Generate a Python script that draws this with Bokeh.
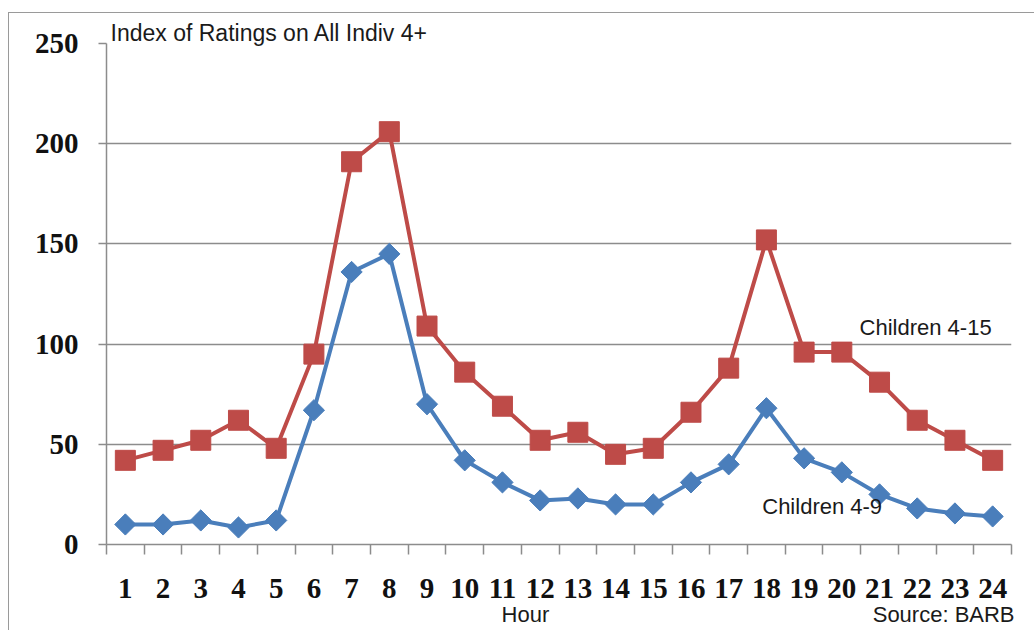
from bokeh.plotting import figure
from bokeh.models import Range1d, FixedTicker, Label, LinearAxis
from bokeh.embed import file_html
from bokeh.resources import INLINE

hours = list(range(1, 25))
hour_labels = [str(h) for h in hours]
children_4_15 = [42, 47, 52, 62, 48, 95, 191, 206, 109, 86, 69, 52, 56, 45, 48, 66, 88, 152, 96, 96, 81, 62, 52, 42]
children_4_9 = [10, 10, 12, 8.5, 12, 67, 136, 145, 70, 42, 31, 22, 23, 20, 20, 31, 40, 68, 43, 36, 25, 18, 15.5, 14]
y_ticks = [0, 50, 100, 150, 200, 250]

title_text = "Index of Ratings on All Indiv 4+"
series_names = ["Children 4-15", "Children 4-9"]
x_title = "Hour"
source_text = "Source: BARB"

RED = "#BE4B48"
BLUE = "#4A7EBB"
GRID = "#8C8C8C"
SANS = "Liberation Sans"
SERIF = "Liberation Serif"
TXT = "#1a1a1a"

p = figure(width=1026, height=618, output_backend="svg", toolbar_location=None,
           x_range=Range1d(0.5, 24.5), y_range=Range1d(0, 250),
           min_border_left=97, min_border_top=30, min_border_right=24, min_border_bottom=87)
p.margin = (12, 0, 0, 8)
p.styles = {"border-left": "1px solid #9a9a9a", "border-top": "1px solid #9a9a9a"}
p.outline_line_color = None
p.background_fill_color = "white"
p.border_fill_color = "white"

# title (top-left, sitting on the 250 line)
p.title.text = title_text
p.title.align = "left"
p.title.offset = 4
p.title.standoff = -5
p.title.text_font = SANS
p.title.text_font_size = "23px"
p.title.text_font_style = "normal"
p.title.text_color = TXT

# grid
p.xgrid.grid_line_color = None
p.ygrid.grid_line_color = GRID
p.ygrid.grid_line_width = 1.5

# y axis
p.yaxis.ticker = FixedTicker(ticks=y_ticks)
p.yaxis.axis_line_color = GRID
p.yaxis.axis_line_width = 1.5
p.yaxis.major_tick_line_color = GRID
p.yaxis.major_tick_line_width = 1.5
p.yaxis.major_tick_out = 8
p.yaxis.major_tick_in = 0
p.yaxis.minor_tick_line_color = None
p.yaxis.major_label_standoff = 20
p.yaxis.major_label_text_font = SERIF
p.yaxis.major_label_text_font_style = "bold"
p.yaxis.major_label_text_font_size = "29px"
p.yaxis.major_label_text_color = "#111111"

# x axis (category boundaries as ticks, hour numbers centred)
p.xaxis.ticker = FixedTicker(ticks=hours, minor_ticks=[h - 0.5 for h in hours] + [24.5])
p.xaxis.major_label_overrides = {h: lab for h, lab in zip(hours, hour_labels)}
p.xaxis.axis_line_color = GRID
p.xaxis.axis_line_width = 1.5
p.xaxis.major_tick_line_color = None
p.xaxis.major_tick_out = 0
p.xaxis.major_tick_in = 0
p.xaxis.minor_tick_line_color = GRID
p.xaxis.minor_tick_line_width = 1.5
p.xaxis.minor_tick_out = 10
p.xaxis.minor_tick_in = 0
p.xaxis.major_label_standoff = 24
p.xaxis.major_label_text_font = SERIF
p.xaxis.major_label_text_font_style = "bold"
p.xaxis.major_label_text_font_size = "29px"
p.xaxis.major_label_text_color = "#111111"

# second row under the axis: "Hour" and "Source: BARB"
note_pos = [11.61, 22.7]
note_axis = LinearAxis(ticker=FixedTicker(ticks=note_pos),
                       major_label_overrides={note_pos[0]: x_title, note_pos[1]: source_text})
note_axis.axis_line_color = None
note_axis.major_tick_line_color = None
note_axis.minor_tick_line_color = None
note_axis.major_tick_out = 0
note_axis.major_tick_in = 0
note_axis.major_label_standoff = 1
note_axis.major_label_text_font = SANS
note_axis.major_label_text_font_size = "22px"
note_axis.major_label_text_color = TXT
p.add_layout(note_axis, "below")

# series
p.line(hours, children_4_15, line_color=RED, line_width=4)
p.scatter(hours, children_4_15, marker="square", size=20, fill_color=RED, line_color=RED)
p.line(hours, children_4_9, line_color=BLUE, line_width=4)
p.scatter(hours, children_4_9, marker="square", angle=0.785398, size=15, fill_color=BLUE, line_color=BLUE)

p.add_layout(Label(x=20.47, y=108.2, text=series_names[0], text_font=SANS, text_font_size="22px",
                   text_color=TXT, text_baseline="alphabetic"))
p.add_layout(Label(x=17.89, y=19, text=series_names[1], text_font=SANS, text_font_size="22px",
                   text_color=TXT, text_baseline="alphabetic"))

open("out.html", "w").write(file_html(p, INLINE))
